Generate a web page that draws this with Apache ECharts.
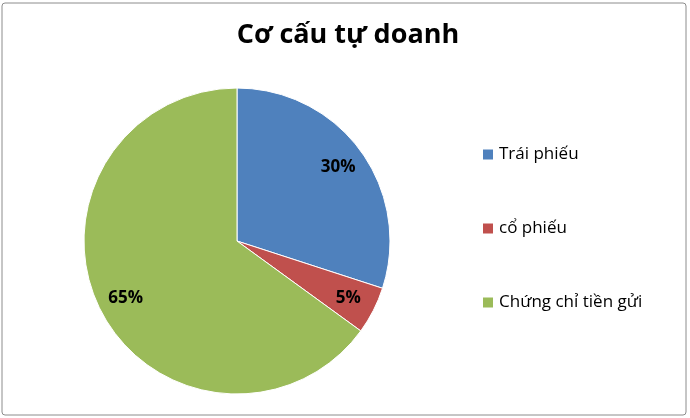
<!DOCTYPE html>
<html>
<head>
<meta charset="utf-8">
<script src="https://cdn.jsdelivr.net/npm/echarts@6/dist/echarts.min.js"></script>
<style>
  html, body { margin: 0; padding: 0; background: #fff; }
  #main { width: 690px; height: 418px; }
</style>
</head>
<body>
<div id="main"></div>
<script>
// du lieu bieu do
var names = ["Trái phiếu", "cổ phiếu", "Chứng chỉ tiền gửi"];
var values = [30, 5, 65];
var colors = ["#4F81BD", "#C0504D", "#9BBB59"];

var pieData = [];
for (var i = 0; i < names.length; i++) {
    pieData.push({ name: names[i], value: values[i], itemStyle: { color: colors[i] } });
}

// lop trong suot chi de dat nhan % gan mep
var labelData = [];
for (var i = 0; i < names.length; i++) {
    labelData.push({ name: names[i], value: values[i], itemStyle: { color: "rgba(0,0,0,0)" } });
}

var font = "Open Sans";
var myChart = echarts.init(document.getElementById("main"));

myChart.setOption({
    animation: false,
    graphic: [{
        type: "rect",
        shape: { x: 2, y: 3, width: 684, height: 412, r: 3 },
        style: { fill: "none", stroke: "#8c8c8c", lineWidth: 1 },
        silent: true
    }],
    title: {
        text: "Cơ cấu tự doanh",
        left: 343,
        top: 17,
        textAlign: "center",
        textStyle: { fontFamily: font, fontSize: 27, fontWeight: "bold", color: "#000" }
    },
    legend: {
        orient: "vertical",
        left: 476,
        top: 141,
        itemWidth: 12,
        itemHeight: 12,
        itemGap: 57,
        icon: "rect",
        data: names,
        textStyle: { fontFamily: font, fontSize: 17, color: "#000" }
    },
    series: [
        {
            type: "pie",
            center: [237, 241],
            radius: [0, 153],
            startAngle: 90,
            clockwise: true,
            data: pieData,
            label: { show: false },
            labelLine: { show: false },
            itemStyle: { borderColor: "#fff", borderWidth: 1 },
            emphasis: { disabled: true }
        },
        {
            type: "pie",
            center: [237, 241],
            radius: [0, 244],
            startAngle: 90,
            clockwise: true,
            silent: true,
            data: labelData,
            label: {
                show: true,
                position: "inside",
                formatter: "{c}%",
                fontFamily: font,
                fontSize: 17,
                fontWeight: "bold",
                color: "#000"
            },
            labelLine: { show: false },
            emphasis: { disabled: true }
        }
    ]
});
</script>
</body>
</html>
